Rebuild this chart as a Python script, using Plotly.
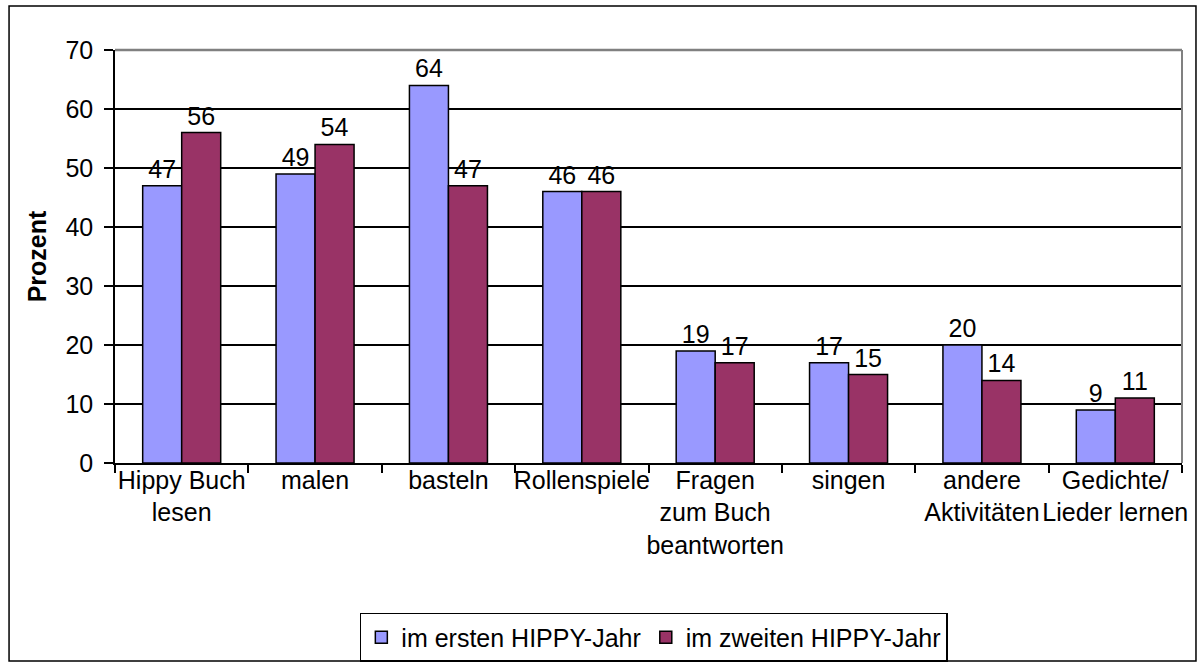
import plotly.graph_objects as go

# categories (x tick labels) and the two series, in percent
categories = [
    "Hippy Buch<br>lesen",
    "malen",
    "basteln",
    "Rollenspiele",
    "Fragen<br>zum Buch<br>beantworten",
    "singen",
    "andere<br>Aktivitäten",
    "Gedichte/<br>Lieder lernen",
]
erstes_jahr = [47, 49, 64, 46, 19, 17, 20, 9]
zweites_jahr = [56, 54, 47, 46, 17, 15, 14, 11]

FONT = "Liberation Sans, Arial, sans-serif"

fig = go.Figure()

fig.add_trace(go.Bar(
    x=categories,
    y=erstes_jahr,
    name="im ersten HIPPY-Jahr",
    marker=dict(color="#9999FF", line=dict(color="black", width=1.5)),
    text=erstes_jahr,
    textposition="outside",
    textfont=dict(size=25, color="black"),
    cliponaxis=False,
))
fig.add_trace(go.Bar(
    x=categories,
    y=zweites_jahr,
    name="im zweiten HIPPY-Jahr",
    marker=dict(color="#993366", line=dict(color="black", width=1.5)),
    text=zweites_jahr,
    textposition="outside",
    textfont=dict(size=25, color="black"),
    cliponaxis=False,
))

fig.update_layout(
    width=1198,
    height=663,
    margin=dict(l=115, r=16, t=50, b=200, autoexpand=False),
    paper_bgcolor="white",
    plot_bgcolor="white",
    font=dict(family=FONT, size=25, color="black"),
    barmode="group",
    bargap=0.415,
    bargroupgap=0,
    showlegend=True,
    legend=dict(
        orientation="h",
        x=0.505, xanchor="center",
        y=-0.363, yanchor="top",
        bgcolor="white",
        bordercolor="black",
        borderwidth=1.5,
        font=dict(size=25),
        traceorder="normal",
    ),
    xaxis=dict(
        type="category",
        automargin=False,
        tickson="boundaries",
        ticks="outside",
        ticklen=8,
        tickwidth=1.5,
        tickcolor="black",
        tickangle=0,
        ticklabelstandoff=-6,
        showline=True,
        linecolor="black",
        linewidth=1.5,
        showgrid=False,
        tickfont=dict(size=25),
    ),
    yaxis=dict(
        automargin=False,
        range=[0, 70],
        dtick=10,
        ticks="outside",
        ticklen=9,
        tickwidth=1.5,
        tickcolor="black",
        ticklabelstandoff=6,
        showline=True,
        linecolor="black",
        linewidth=1.5,
        showgrid=True,
        gridcolor="black",
        gridwidth=1.5,
        zeroline=False,
        tickfont=dict(size=25),
        title=dict(text="<b>Prozent</b>", font=dict(size=25), standoff=12),
    ),
    shapes=[
        # grey top and right border of the plot area
        dict(type="line", xref="paper", yref="paper", x0=0, x1=1, y0=1, y1=1,
             line=dict(color="#808080", width=2.5), layer="above"),
        dict(type="line", xref="paper", yref="paper", x0=1, x1=1, y0=0, y1=1,
             line=dict(color="#808080", width=2), layer="above"),
        # outer chart frame
        dict(type="rect", xref="paper", yref="paper",
             x0=-0.0993, x1=1.0131, y0=-0.4794, y1=1.1065,
             line=dict(color="black", width=1.5), layer="above"),
    ],
)

# drop the default 8px page margin so the figure fills the window exactly
fig.write_html(
    "out.html",
    config={"displayModeBar": False},
    post_script="document.body.style.margin = '0';",
)
